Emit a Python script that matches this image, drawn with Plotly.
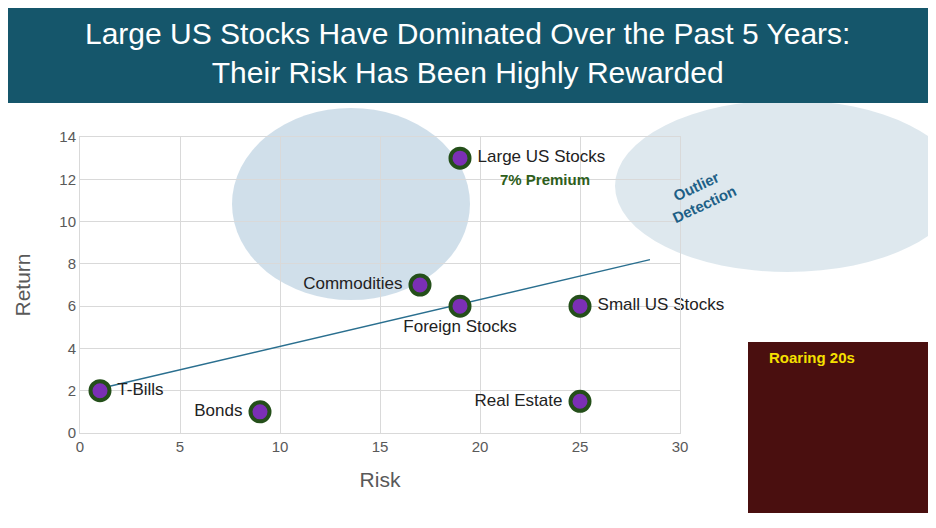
import plotly.graph_objects as go

names = ["T-Bills", "Bonds", "Commodities", "Foreign Stocks", "Large US Stocks", "Small US Stocks", "Real Estate"]
risk = [1, 9, 17, 19, 19, 25, 25]
ret = [2.0, 1.0, 7.0, 6.0, 13.0, 6.0, 1.5]
positions = ["middle right", "middle left", "middle left", "bottom center", "middle right", "middle right", "middle left"]
trend_x = [1, 28.5]
trend_y = [2.1, 8.2]

L, T, W, H = 80, 137, 600, 296
def px(x): return (x - L) / W
def py(y): return (T + H - y) / H

fig = go.Figure()
fig.add_trace(go.Scatter(x=trend_x, y=trend_y, mode="lines", line=dict(color="#2a6f8f", width=1.5), hoverinfo="skip"))
fig.add_trace(go.Scatter(x=risk, y=ret, mode="markers+text", cliponaxis=False,
                         text=[" " + n + " " if p != "bottom center" else n for n, p in zip(names, positions)],
                         textposition=positions, textfont=dict(family="Liberation Sans", size=17, color="#222"),
                         marker=dict(size=19, color="#7b2fb5", line=dict(color="#244f1a", width=4))))
fig.add_annotation(x=20.9, y=12.0, text="<b>7% Premium</b>", showarrow=False, xanchor="left",
                   font=dict(family="Liberation Sans", size=15, color="#2e5e1b"))

# decorative placeholders for photos
fig.add_shape(type="circle", xref="paper", yref="paper", x0=px(232), x1=px(470), y0=py(300), y1=py(108),
              fillcolor="#a9c4d8", line=dict(width=0), opacity=0.55, layer="below")
fig.add_shape(type="circle", xref="paper", yref="paper", x0=px(615), x1=px(960), y0=py(272), y1=py(100),
              fillcolor="#d6e2ea", line=dict(width=0), opacity=0.8, layer="below")
fig.add_shape(type="rect", xref="paper", yref="paper", x0=px(748), x1=px(929), y0=py(513), y1=py(342),
              fillcolor="#4a0f0f", line=dict(width=0))
fig.add_annotation(xref="paper", yref="paper", x=px(812), y=py(357), text="<b>Roaring 20s</b>", showarrow=False,
                   xanchor="center", yanchor="middle", font=dict(family="Liberation Sans", size=15, color="#f5e000"))
fig.add_annotation(xref="paper", yref="paper", x=px(700), y=py(195), text="<b>Outlier<br>Detection</b>", showarrow=False,
                   xanchor="center", yanchor="middle", textangle=-25, font=dict(family="Liberation Sans", size=15, color="#1d5f86"))

# title banner
fig.add_shape(type="rect", xref="paper", yref="paper", x0=px(0), x1=px(936), y0=py(103), y1=py(-10),
              fillcolor="#15566b", line=dict(width=0))
fig.add_annotation(xref="paper", yref="paper", x=px(468), y=py(53), xanchor="center", yanchor="middle",
                   text="Large US Stocks Have Dominated Over the Past 5 Years:<br>Their Risk Has Been Highly Rewarded",
                   showarrow=False, font=dict(family="Liberation Sans", size=30, color="white"))

fig.update_layout(width=936, height=528, margin=dict(l=L - 8, r=936 - L - W + 8, t=T - 8, b=528 - T - H + 8),
                  plot_bgcolor="white", paper_bgcolor="white", showlegend=False)
fig.update_xaxes(range=[0, 30], dtick=5, showgrid=True, gridcolor="#d9d9d9", zeroline=False, automargin=False,
                 showline=True, linecolor="#d9d9d9", ticks="", tickfont=dict(family="Liberation Sans", size=15, color="#595959"),
                 title=dict(text="Risk", standoff=18, font=dict(family="Liberation Sans", size=21, color="#595959")), mirror=True)
fig.update_yaxes(range=[0, 14], dtick=2, showgrid=True, gridcolor="#d9d9d9", zeroline=False, automargin=False,
                 showline=True, linecolor="#d9d9d9", tickfont=dict(family="Liberation Sans", size=15, color="#595959"),
                 title=dict(text="Return", standoff=22, font=dict(family="Liberation Sans", size=21, color="#595959")), mirror=True)
fig.write_html("out.html")
